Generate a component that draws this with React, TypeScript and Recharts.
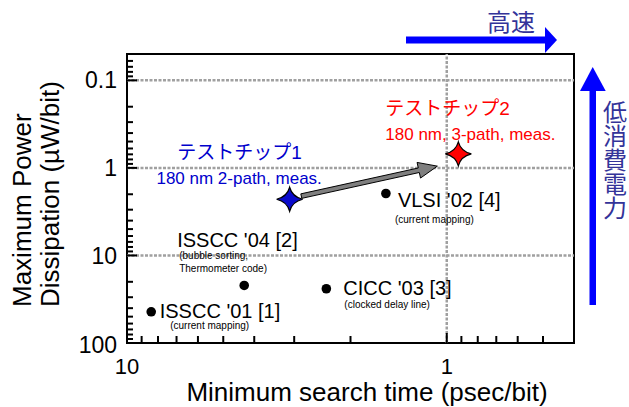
import React from "react";
import { ScatterChart, Scatter, XAxis, YAxis, ReferenceLine, ReferenceArea } from "recharts";

const W = 629;
const H = 407;
const FONT = "'Liberation Sans', Arial, 'Noto Sans CJK JP', sans-serif";
const JFONT = "'Noto Sans CJK JP', 'Liberation Sans', sans-serif";

// Axis ticks
const xTicks = [10, 9, 8, 7, 6, 5, 4, 3, 2, 1, 0.9, 0.8, 0.7, 0.6, 0.5];
const xMajor = [10, 1];
const yTicks = [
  0.06, 0.07, 0.08, 0.09, 0.1, 0.2, 0.3, 0.4, 0.5, 0.6, 0.7, 0.8, 0.9,
  1, 2, 3, 4, 5, 6, 7, 8, 9, 10, 20, 30, 40, 50, 60, 70, 80, 90, 100,
];
const yMajor = [0.1, 1, 10, 100];
const gridY = [0.1, 1, 10];
const gridX = [1];

// Reference works
const refNames = ["ISSCC '01 [1]", "ISSCC '04 [2]", "CICC '03 [3]", "VLSI '02 [4]"];
const refNotes = [
  ["(current mapping)"],
  ["(bubble sorting,", "Thermometer code)"],
  ["(clocked delay line)"],
  ["(current mapping)"],
];
const refTime = [8.4, 4.3, 2.38, 1.55];
const refPower = [44, 22, 24, 1.96];

// Test chips
const chipNames = ["テストチップ1", "テストチップ2"];
const chipNotes = ["180 nm 2-path, meas.", "180 nm, 3-path, meas."];
const chipTime = [3.1, 0.92];
const chipPower = [2.28, 0.69];

// Improvement arrow (from chip 1 toward chip 2)
const arrowTime = [2.85, 1.07];
const arrowPower = [2.1, 0.955];

// Side annotations
const speedLabel = "高速";
const powerLabel = "低消費電力";

const refData = refNames.map((name, i) => ({ x: refTime[i], y: refPower[i], name, note: refNotes[i], i }));
const chipData = chipNames.map((name, i) => ({ x: chipTime[i], y: chipPower[i], name, note: chipNotes[i], i }));

// label layout (pixel offsets from the mark)
const refLabelLayout = [
  { tx: 8.5, ty: -1, anchor: "start", nx: 19, ny: 14, nAnchor: "start" },
  { tx: -67, ty: -45, anchor: "start", nx: -65, ny: -30, nAnchor: "start" },
  { tx: 17, ty: -1, anchor: "start", nx: 18, ny: 16, nAnchor: "start" },
  { tx: 12, ty: 7, anchor: "start", nx: 9, ny: 26, nAnchor: "start" },
];
const chipLayout = [
  { tx: -50, ty: -47, anchor: "middle", nx: -50.5, ny: -21.5, nAnchor: "middle" },
  { tx: -73, ty: -45.5, anchor: "start", nx: -73, ny: -19.5, nAnchor: "start" },
];
const chipFill = ["#0a0acc", "#ff0000"];
const chipText = ["#0000cc", "#ff0000"];

const XTick = (props: any) => {
  const { x, y, payload } = props;
  const v = payload.value;
  const major = xMajor.includes(v);
  return (
    <g>
      <line x1={x} x2={x} y1={y} y2={y - (major ? 10 : 7)} stroke="#000" strokeWidth={2} />
      {major && (
        <text x={x} y={y + 23} dy="0.35em" textAnchor="middle" fontSize={22} fontFamily={FONT} fill="#000">
          {String(v)}
        </text>
      )}
    </g>
  );
};

const YTick = (props: any) => {
  const { x, y, payload } = props;
  const v = payload.value;
  const major = yMajor.includes(v);
  return (
    <g>
      <line x1={x} x2={x + (major ? 10 : 6)} y1={y} y2={y} stroke="#000" strokeWidth={2} />
      {major && (
        <text x={x - 10} y={y + (v === 100 ? 2 : 0)} dy="0.35em" textAnchor="end" fontSize={23} fontFamily={FONT} fill="#000">
          {String(v)}
        </text>
      )}
    </g>
  );
};

const RefDot = (props: any) => {
  const { cx, cy, payload } = props;
  const L = refLabelLayout[payload.i];
  return (
    <g>
      <circle cx={cx} cy={cy} r={4.8} fill="#000" />
      <text x={cx + L.tx} y={cy + L.ty} dy="0.35em" textAnchor={L.anchor} fontSize={20} fontFamily={FONT} fill="#000">
        {payload.name}
      </text>
      {payload.note.map((n: string, k: number) => (
        <text key={k} x={cx + L.nx} y={cy + L.ny + k * 13} dy="0.35em" textAnchor={L.nAnchor} fontSize={10} fontFamily={FONT} fill="#000">
          {n}
        </text>
      ))}
    </g>
  );
};

const ChipStar = (props: any) => {
  const { cx, cy, payload } = props;
  const L = chipLayout[payload.i];
  const Rx = 13;
  const Ry = 12;
  const r = 2.5;
  const d = `M${cx},${cy - Ry} Q${cx + r},${cy - r} ${cx + Rx},${cy} Q${cx + r},${cy + r} ${cx},${cy + Ry} Q${cx - r},${cy + r} ${cx - Rx},${cy} Q${cx - r},${cy - r} ${cx},${cy - Ry} Z`;
  return (
    <g>
      <path d={d} fill={chipFill[payload.i]} stroke="#000" strokeWidth={1.2} />
      <text x={cx + L.tx} y={cy + L.ty} dy="0.35em" textAnchor={L.anchor} fontSize={19} fontFamily={FONT} fill={chipText[payload.i]}>
        {payload.name}
      </text>
      <text x={cx + L.nx} y={cy + L.ny} dy="0.35em" textAnchor={L.nAnchor} fontSize={17} fontFamily={FONT} fill={chipText[payload.i]}>
        {payload.note}
      </text>
    </g>
  );
};

const BlockArrow = (props: any) => {
  const { x1, y1, x2, y2 } = props;
  const dx = x2 - x1;
  const dy = y2 - y1;
  const len = Math.sqrt(dx * dx + dy * dy);
  const ux = dx / len;
  const uy = dy / len;
  const px = -uy;
  const py = ux;
  const hl = 19;
  const hw = 8;
  const sw = 2.3;
  const bx = x2 - ux * hl;
  const by = y2 - uy * hl;
  const pts = [
    [x1 + px * sw, y1 + py * sw],
    [bx + px * sw, by + py * sw],
    [bx + px * hw, by + py * hw],
    [x2, y2],
    [bx - px * hw, by - py * hw],
    [bx - px * sw, by - py * sw],
    [x1 - px * sw, y1 - py * sw],
  ];
  return <polygon points={pts.map((p) => p.join(",")).join(" ")} fill="#7f7f7f" stroke="#000" strokeWidth={1} />;
};

export default function App() {
  return (
    <div style={{ position: "absolute", left: 0, top: 0, width: W, height: H, background: "#fff" }}>
      <ScatterChart width={W} height={H} margin={{ top: 54, right: 55, bottom: 34, left: 67 }}>
        <XAxis
          type="number"
          dataKey="x"
          scale="log"
          domain={[0.4, 10]}
          reversed
          allowDataOverflow
          ticks={xTicks}
          interval={0}
          tick={<XTick />}
          tickSize={0}
          tickMargin={0}
          tickLine={false}
          axisLine={false}
          height={30}
        />
        <YAxis
          type="number"
          dataKey="y"
          scale="log"
          domain={[0.05, 100]}
          reversed
          allowDataOverflow
          ticks={yTicks}
          interval={0}
          tick={<YTick />}
          tickSize={0}
          tickMargin={0}
          tickLine={false}
          axisLine={false}
          width={60}
        />
        {gridY.map((v) => (
          <ReferenceLine key={"gy" + v} y={v} stroke="#a0a0a0" strokeWidth={2.5} strokeDasharray="3 1.5" />
        ))}
        {gridX.map((v) => (
          <ReferenceLine key={"gx" + v} x={v} stroke="#a0a0a0" strokeWidth={2.5} strokeDasharray="3 1.5" />
        ))}
        <ReferenceArea x1={10} x2={0.4} y1={0.05} y2={100} fill="none" fillOpacity={0} stroke="#000" strokeWidth={2} />
        <ReferenceLine
          segment={[
            { x: arrowTime[0], y: arrowPower[0] },
            { x: arrowTime[1], y: arrowPower[1] },
          ]}
          shape={(p: any) => <BlockArrow {...p} />}
        />
        <Scatter data={refData} shape={<RefDot />} isAnimationActive={false} />
        <Scatter data={chipData} shape={<ChipStar />} isAnimationActive={false} />
      </ScatterChart>
      <svg width={W} height={H} style={{ position: "absolute", left: 0, top: 0, pointerEvents: "none" }}>
        <text x={367} y={401} textAnchor="middle" fontSize={26} fontFamily={FONT} fill="#000">
          Minimum search time (psec/bit)
        </text>
        <text x={31} y={307} transform="rotate(-90 31 307)" textAnchor="start" fontSize={26} fontFamily={FONT} fill="#000">
          Maximum Power
        </text>
        <text x={59} y={307} transform="rotate(-90 59 307)" textAnchor="start" fontSize={26} fontFamily={FONT} fill="#000">
          Dissipation (µW/bit)
        </text>
        <rect x={406} y={36.5} width={140} height={7} fill="#0000ff" />
        <polygon points="545,27 557,40 545,53" fill="#0000ff" />
        <text x={511} y={22.5} dy="0.35em" textAnchor="middle" fontSize={24} fontFamily={JFONT} fill="#333399">
          {speedLabel}
        </text>
        <rect x={589.5} y={90} width={6.5} height={215} fill="#0000ff" />
        <polygon points="580,91 592.7,67 605.7,91" fill="#0000ff" />
        <text x={615} y={100} fontSize={24} fontFamily={JFONT} fill="#333399" style={{ writingMode: "vertical-rl" }}>
          {powerLabel}
        </text>
      </svg>
    </div>
  );
}
